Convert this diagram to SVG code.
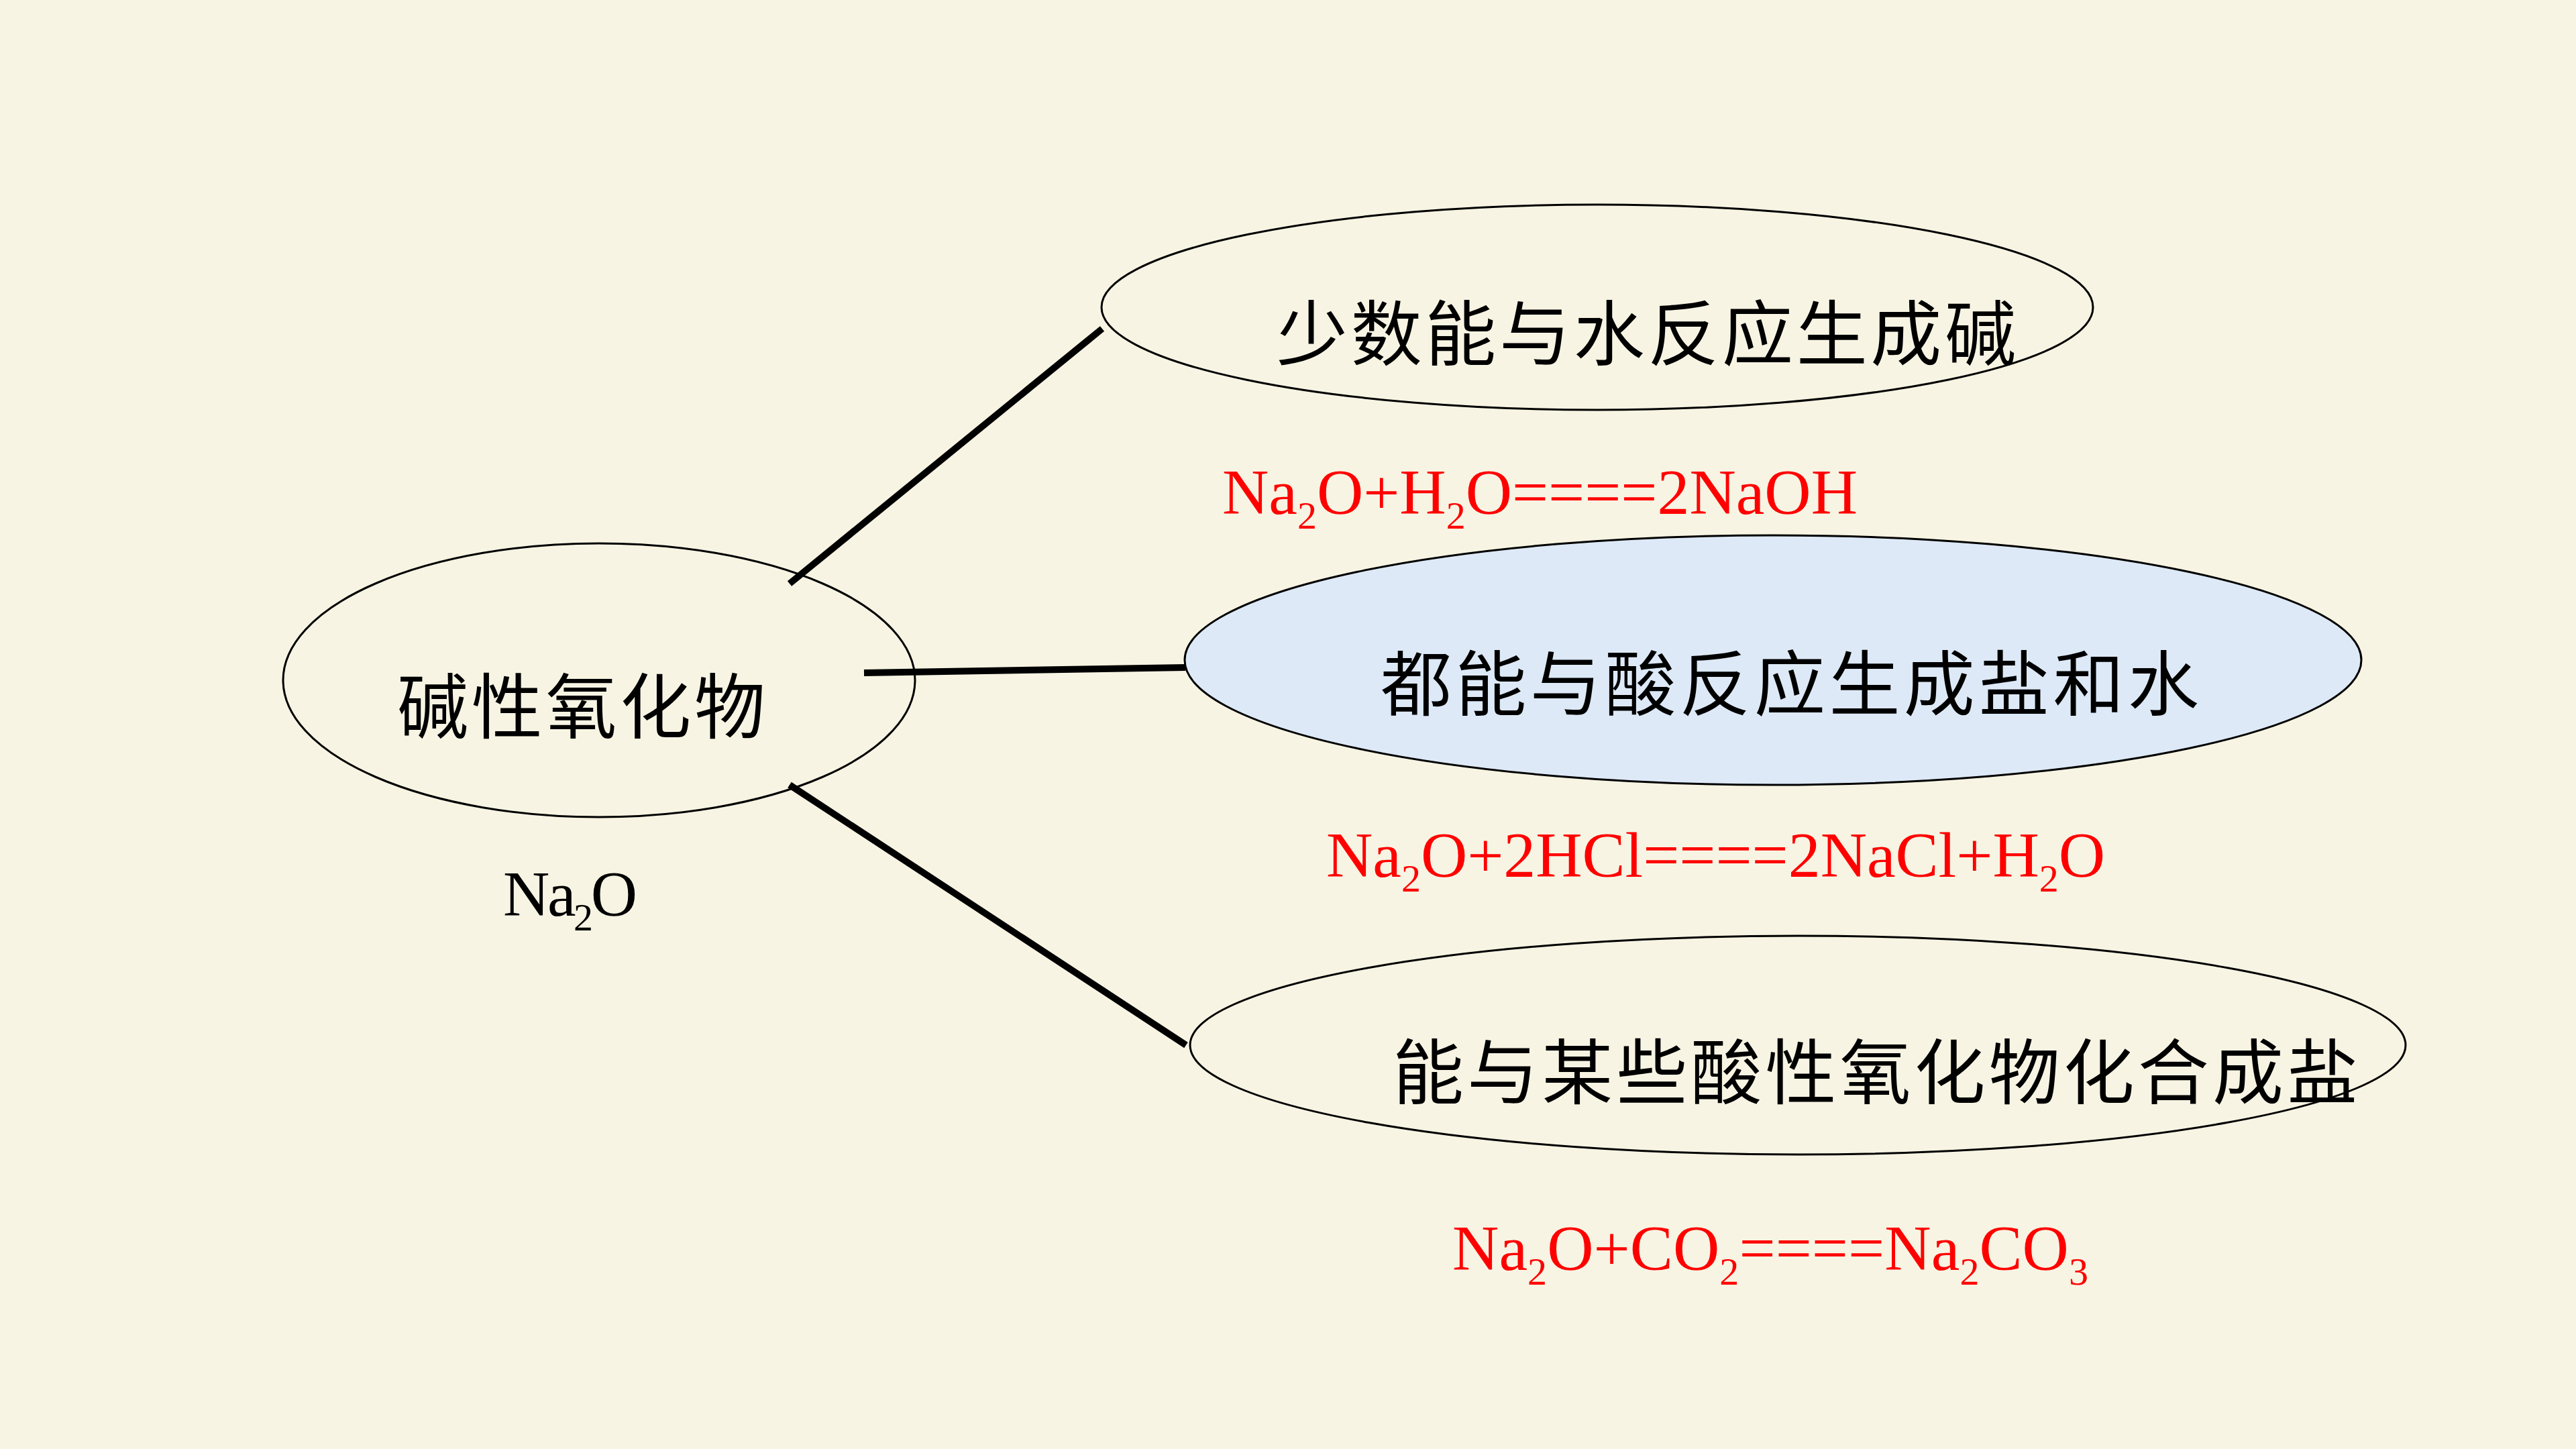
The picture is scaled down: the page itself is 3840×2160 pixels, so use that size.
<svg xmlns="http://www.w3.org/2000/svg" width="3840" height="2160" viewBox="0 0 3840 2160">
  <style>
    .node { fill: none; stroke: #000; stroke-width: 3; }
    .node-fill { fill: #dde9f6; stroke: #000; stroke-width: 3; }
    .conn { stroke: #000; stroke-width: 10; stroke-linecap: butt; fill: none; }
    .cjk { font-family: "Noto Sans CJK SC", sans-serif; font-size: 106px; fill: #000; dominant-baseline: central; }
    .formula { font-family: "Liberation Serif", "Times New Roman", serif; font-size: 96px; }
    .red { fill: #ff0000; }
    .black { fill: #000; }
    .sub { font-size: 58px; }
  </style>
  <rect x="0" y="0" width="3840" height="2160" fill="#f7f4e3"/>

  <g id="connectors">
    <line class="conn" x1="1177" y1="870" x2="1643" y2="490"/>
    <line class="conn" x1="1288" y1="1003" x2="1767" y2="995"/>
    <line class="conn" x1="1177" y1="1170" x2="1768" y2="1558"/>
  </g>

  <g id="node-basic-oxide">
    <ellipse class="node" cx="893" cy="1014" rx="471" ry="204"/>
    <text class="cjk" x="592" y="1046" textLength="549" lengthAdjust="spacing">碱性氧化物</text>
  </g>

  <g id="label-na2o">
    <text class="formula black" x="750" y="1365" textLength="200" lengthAdjust="spacing">Na<tspan class="sub" dy="22">2</tspan><tspan dy="-22">O</tspan></text>
  </g>

  <g id="node-water">
    <ellipse class="node" cx="2381" cy="458" rx="739" ry="153"/>
    <text class="cjk" x="1903" y="490" textLength="1102" lengthAdjust="spacing">少数能与水反应生成碱</text>
  </g>

  <g id="eq-water">
    <text class="formula red" x="1822" y="766" textLength="947" lengthAdjust="spacing">Na<tspan class="sub" dy="22">2</tspan><tspan dy="-22">O+H</tspan><tspan class="sub" dy="22">2</tspan><tspan dy="-22">O====2NaOH</tspan></text>
  </g>

  <g id="node-acid">
    <ellipse class="node-fill" cx="2643" cy="984" rx="877" ry="186"/>
    <text class="cjk" x="2058" y="1012" textLength="1220" lengthAdjust="spacing">都能与酸反应生成盐和水</text>
  </g>

  <g id="eq-acid">
    <text class="formula red" x="1977" y="1307" textLength="1161" lengthAdjust="spacing">Na<tspan class="sub" dy="22">2</tspan><tspan dy="-22">O+2HCl====2NaCl+H</tspan><tspan class="sub" dy="22">2</tspan><tspan dy="-22">O</tspan></text>
  </g>

  <g id="node-acidic-oxide">
    <ellipse class="node" cx="2680" cy="1558" rx="906" ry="163"/>
    <text class="cjk" x="2076" y="1591" textLength="1439" lengthAdjust="spacing">能与某些酸性氧化物化合成盐</text>
  </g>

  <g id="eq-acidic-oxide">
    <text class="formula red" x="2165" y="1893" textLength="948" lengthAdjust="spacing">Na<tspan class="sub" dy="22">2</tspan><tspan dy="-22">O+CO</tspan><tspan class="sub" dy="22">2</tspan><tspan dy="-22">====Na</tspan><tspan class="sub" dy="22">2</tspan><tspan dy="-22">CO</tspan><tspan class="sub" dy="22">3</tspan></text>
  </g>
</svg>
